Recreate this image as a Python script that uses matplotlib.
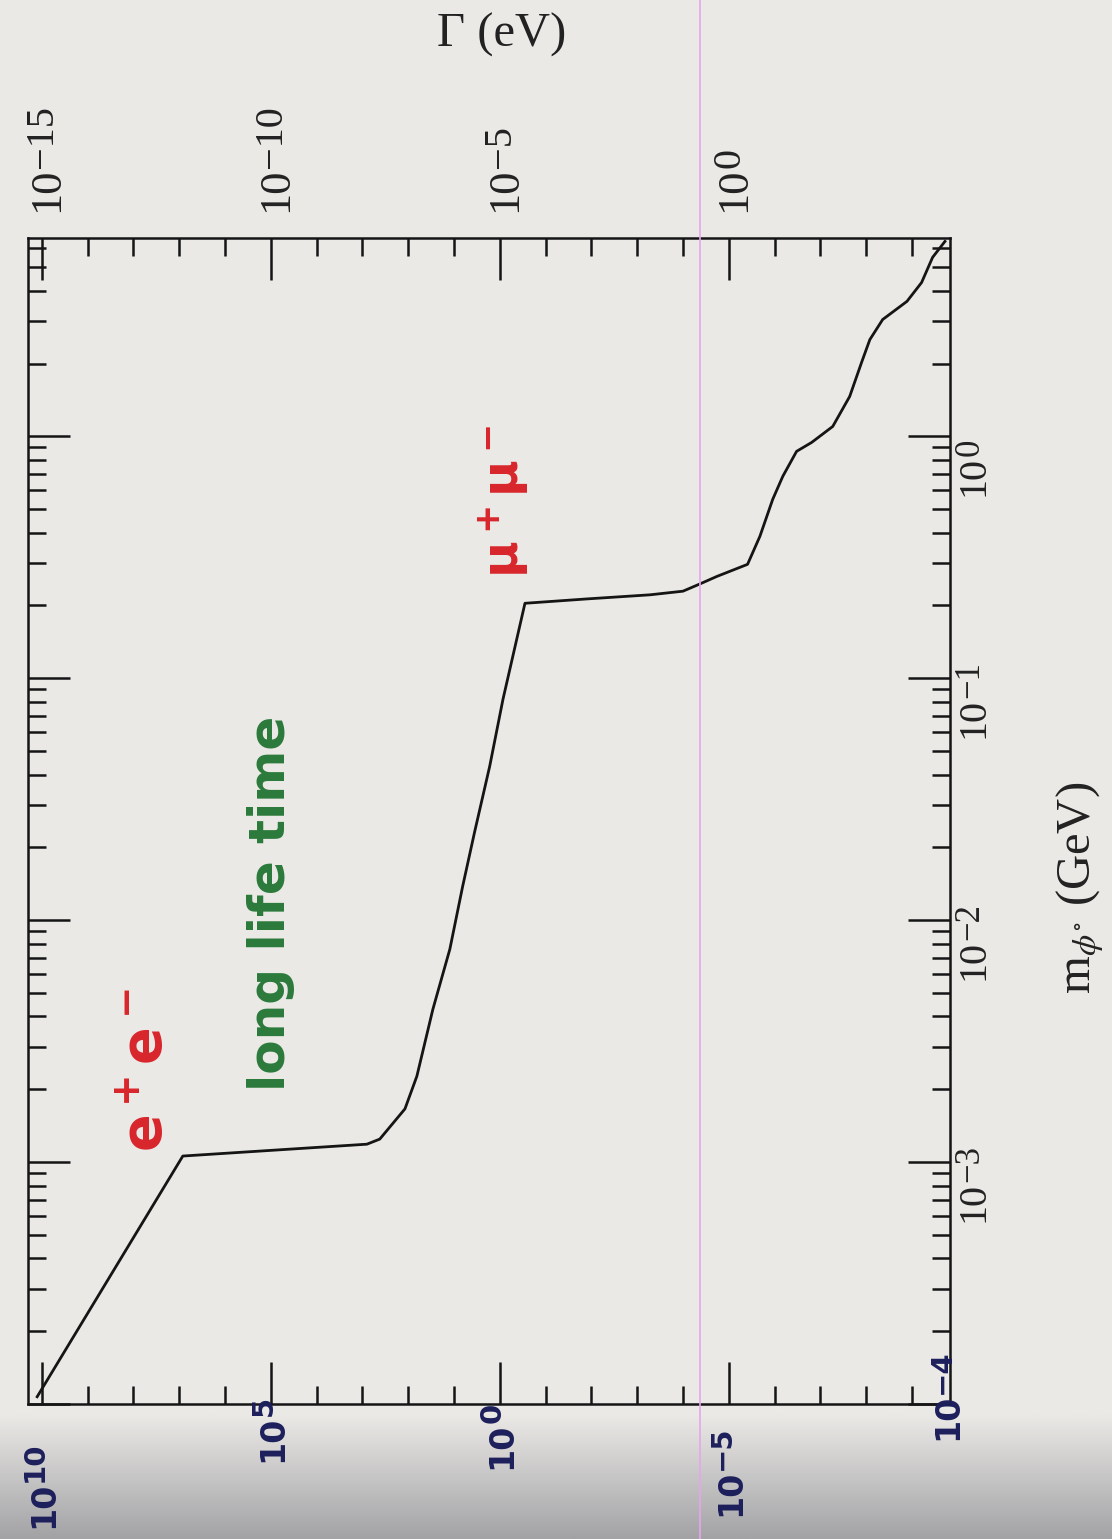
import matplotlib.pyplot as plt
import matplotlib.ticker as mticker
from matplotlib.lines import Line2D
from matplotlib.colors import LinearSegmentedColormap
import numpy as np

# decay width curve: log10(Gamma / eV) and log10(m / GeV)
log_gamma = [-15.1, -11.92, -7.90, -7.62, -7.07, -6.81, -6.46, -6.09, -5.81,
             -5.55, -5.22, -4.93, -4.45, -3.10, -1.72, -1.00, -0.63, -0.26,
             0.41, 0.68, 0.96, 1.18, 1.48, 1.81, 2.27, 2.64, 2.90, 3.08,
             3.36, 3.89, 4.21, 4.45, 4.72]
log_mass = [-3.97, -2.975, -2.926, -2.905, -2.78, -2.645, -2.368, -2.12,
            -1.86, -1.636, -1.364, -1.087, -0.69, -0.672, -0.655, -0.64,
            -0.61, -0.579, -0.529, -0.413, -0.26, -0.165, -0.062, -0.025,
            0.041, 0.165, 0.306, 0.40, 0.483, 0.558, 0.636, 0.74, 0.806]

gamma_ticks = [-15, -10, -5, 0]          # labelled top ticks (exponents)
mass_ticks = [-3, -2, -1, 0]             # labelled right ticks (exponents)
ctau_labels = ['10', '5', '0', '\u22125']  # handwritten c*tau exponents at the bottom

W, H = 1112, 1539
PT = 72 / 100
bg = '#ebe9e6'
navy = '#1d1f5c'

plt.rcParams['font.family'] = ['Liberation Serif', 'DejaVu Serif']
plt.rcParams['mathtext.fontset'] = 'stix'

fig = plt.figure(figsize=(W / 100, H / 100), dpi=100, facecolor=bg)

# darker speckled band of the scan along the bottom edge (drawn as a plain gradient)
band = fig.add_axes([0, 0, 1, 125 / H], zorder=-1)
band.imshow(np.linspace(1, 0, 50).reshape(-1, 1), aspect='auto',
            cmap=LinearSegmentedColormap.from_list('scan', ['#a3a3a6', bg]),
            extent=[0, 1, 0, 1])
band.set_axis_off()

ax = fig.add_axes([28 / W, 1 - 1404 / H, (950 - 28) / W, (1404 - 238) / H])
ax.set_facecolor(bg)

ax.plot(10 ** np.array(log_gamma), 10 ** np.array(log_mass), color='#151515', lw=2.0)

ax.set_xscale('log')
ax.set_yscale('log')
ax.set_xlim(10 ** -15.3, 10 ** 4.83)
ax.set_ylim(10 ** -4.0, 10 ** 0.82)

ax.xaxis.set_major_locator(mticker.FixedLocator([10.0 ** e for e in gamma_ticks]))
ax.xaxis.set_minor_locator(mticker.FixedLocator([10.0 ** e for e in range(-15, 5)]))
ax.yaxis.set_major_locator(mticker.LogLocator(base=10, numticks=20))
ax.yaxis.set_minor_locator(mticker.LogLocator(base=10, subs=np.arange(2, 10), numticks=20))
ax.xaxis.set_minor_formatter(mticker.NullFormatter())
ax.yaxis.set_minor_formatter(mticker.NullFormatter())

ax.tick_params(which='both', direction='in', top=True, bottom=True, left=True, right=True,
               labeltop=False, labelbottom=False, labelleft=False, labelright=False,
               width=1.8, color='#151515')
ax.tick_params(which='major', length=30)
ax.tick_params(which='minor', length=13)
for s in ax.spines.values():
    s.set_linewidth(1.8)
    s.set_color('#151515')


def pow_label(xy, coords, exp, dx, dy, eshift, fs, efs, **kw):
    # base "10" below the junction, exponent above it and raised (to the left)
    ax.annotate('10', xy=xy, xycoords=coords, xytext=(dx * PT, dy * PT),
                textcoords='offset points', rotation=90, ha='center', va='top',
                fontsize=fs, annotation_clip=False, **kw)
    ax.annotate(exp, xy=xy, xycoords=coords, xytext=((dx - eshift) * PT, dy * PT),
                textcoords='offset points', rotation=90, ha='center', va='bottom',
                fontsize=efs, annotation_clip=False, **kw)


for e in gamma_ticks:
    txt = str(e).replace('-', '\u2212')
    pow_label((10.0 ** e, 1), ('data', 'axes fraction'), txt, 5, 70, 4, 32, 29, color='#222')

for e in mass_ticks:
    txt = str(e).replace('-', '\u2212')
    pow_label((1, 10.0 ** e), ('axes fraction', 'data'), txt, 24, -20, 4, 29, 25, color='#222')

# handwritten c*tau values along the bottom
ctau_dy = [-78, -12, -19, -66]
for e, lab, d in zip(gamma_ticks, ctau_labels, ctau_dy):
    pow_label((10.0 ** e, 0), ('data', 'axes fraction'), lab, 2, d, 9, 24, 21,
              color=navy, fontweight='heavy', family='DejaVu Sans')
pow_label((1, 10.0 ** -4), ('axes fraction', 'data'), '\u22124', -2, 10, 6, 24, 21,
          color=navy, fontweight='heavy', family='DejaVu Sans')

fig.text(502 / W, 1 - 35 / H, '\u0393 (eV)', fontsize=35, ha='center', va='center', color='#222')
fig.text(1080 / W, 1 - 888 / H, r'm$_{\phi^{\circ}}$ (GeV)', fontsize=35, rotation=90,
         ha='center', va='center', color='#222')

# handwritten annotations
ax.text(10 ** -12.7, 10 ** -2.62, r'$\mathbf{e^+e^-}$', color='#d8262b', fontsize=40,
        rotation=90, ha='center', va='center', math_fontfamily='dejavusans')
ax.text(10 ** -10.0, 10 ** -1.93, 'long life time', color='#2b7a3b', fontsize=36,
        rotation=90, ha='center', va='center', fontweight='bold', family='DejaVu Sans')
ax.text(10 ** -4.9, 10 ** -0.27, r'$\mathbf{\mu^+\mu^-}$', color='#d8262b', fontsize=36,
        rotation=90, ha='center', va='center', math_fontfamily='dejavusans')

# faint magenta scanner streak
fig.add_artist(Line2D([700 / W, 700 / W], [0, 1], transform=fig.transFigure,
                      color='#e6a6ec', lw=1.2))

fig.savefig('out.png', dpi=100, facecolor=bg)
